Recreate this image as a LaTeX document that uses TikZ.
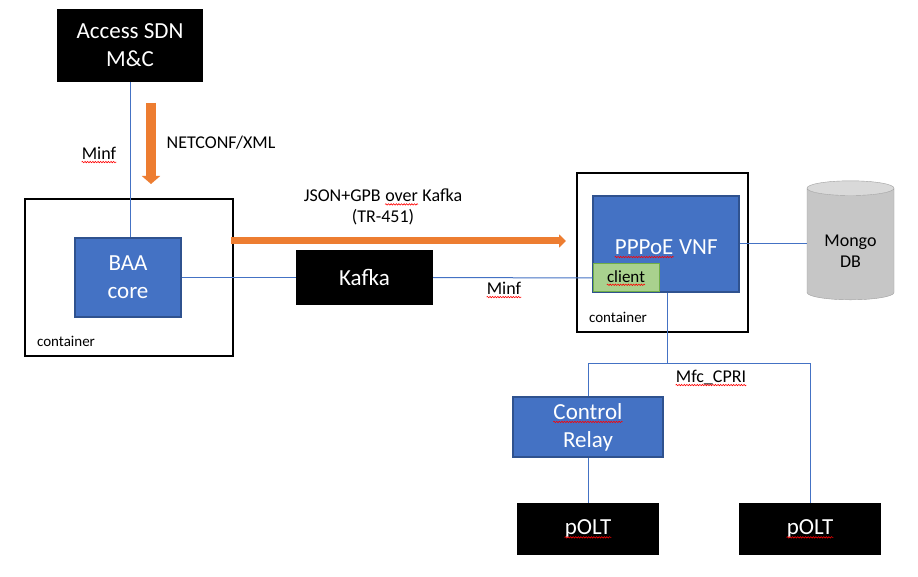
\documentclass[tikz,border=0pt]{standalone}
\usepackage{fontspec}
\setmainfont{Carlito}
\usepackage{tikz}
\usetikzlibrary{arrows.meta,shapes.geometric,decorations.pathmorphing}

\definecolor{boxblue}{HTML}{4472C4}
\definecolor{boxedge}{HTML}{2F528F}
\definecolor{arrorange}{HTML}{ED7D31}
\definecolor{clientgreen}{HTML}{A9D18E}
\definecolor{clientedge}{HTML}{70AD47}

% red spell-check wave under a word
\newcommand{\spell}[1]{\tikz[baseline=(word.base),x=1pt,y=1pt]{%
	\node[shape=rectangle,inner sep=0pt,minimum size=0pt,draw=none,fill=none,anchor=base] (word) {#1};
	\draw[red,line width=0.6pt,decorate,decoration={snake,amplitude=0.7pt,segment length=2.6pt}]
		([yshift=-2.8pt]word.base west) -- ([yshift=-2.8pt]word.base east);}}

\begin{document}
\begin{tikzpicture}[x=1pt,y=-1pt,
	bigfont/.style={font=\fontsize{23}{28}\selectfont},
	blackbox/.style={bigfont,fill=black,text=white,align=center},
	bluebox/.style={bigfont,fill=boxblue,draw=boxedge,line width=1.5pt,text=white,align=center},
	contbox/.style={draw=black,line width=2pt},
	lbl/.style={font=\fontsize{18}{21}\selectfont,inner sep=0pt,align=center},
	link/.style={draw=boxblue,line width=1pt}]
	\useasboundingbox[fill=white] (0,0) rectangle (918,577);
	% containers
	\node[contbox,minimum width=208,minimum height=157] (leftcont) at (129,277.5) {};
	\node[contbox,minimum width=171,minimum height=159] (rightcont) at (662.5,252.5) {};
	\node[font=\fontsize{15}{18}\selectfont] (contA) at (66,341) {container};
	\node[font=\fontsize{15}{18}\selectfont] (contB) at (618,317) {container};
	% boxes
	\node[blackbox,minimum width=146,minimum height=73] (access) at (130,45.5) {Access SDN\\M\&C};
	\node[bluebox,minimum width=146,minimum height=96,text height=25pt,text depth=4.5pt] (pppoe) at (666,244) {\spell{PPPoE} VNF};
	\node[bluebox,minimum width=106,minimum height=79] (baa) at (128,277.5) {BAA\\core};
	\node[blackbox,minimum width=137,minimum height=55] (kafka) at (364.5,277.5) {Kafka};
	\node[font=\fontsize{17}{20}\selectfont,fill=clientgreen,draw=clientedge,line width=1pt,
		minimum width=66,minimum height=28] (client) at (626,278) {\spell{client}};
	\node[cylinder,shape border rotate=90,aspect=0.25,draw=gray!75,
		cylinder uses custom fill,cylinder body fill=gray!45,cylinder end fill=gray!30,
		minimum width=87,minimum height=119,align=center,
		font=\fontsize{18}{21}\selectfont] (mongo) at (850.5,245.5) {\phantom{Mongo}\\\phantom{DB}};
	\node[lbl] (mongotext) at (850.5,251) {Mongo\\DB};
	\node[bluebox,minimum width=150,minimum height=60] (relay) at (588,427) {\spell{Control}\\Relay};
	\node[blackbox,minimum width=142,minimum height=52] (poltA) at (588,529) {\spell{pOLT}};
	\node[blackbox,minimum width=142,minimum height=52] (poltB) at (810,529) {\spell{pOLT}};
	% links
	\draw[link] (access.south) -- (access.south |- baa.north);
	\draw[link] (baa.east) -- (kafka.west);
	\draw[link] (kafka.east) -- (client.west);
	\draw[link] (pppoe.east) -- (pppoe.east -| mongo.west);
	\coordinate (split) at (667,363);
	\draw[link] (split |- pppoe.south) -- (split);
	\draw[link] (relay.north) -- (relay.north |- split) -- (poltB.north |- split) -- (poltB.north);
	\draw[link] (relay.south) -- (poltA.north);
	% orange arrows
	\coordinate (netA) at (151,103);
	\coordinate (netB) at (151,184);
	\draw[arrorange,line width=10pt,-{Triangle[width=18pt,length=8pt]}] (netA) -- (netB);
	\coordinate (jsonA) at (231,241);
	\coordinate (jsonB) at (566,241);
	\draw[arrorange,line width=7pt,-{Triangle[width=13pt,length=7pt]}] (jsonA) -- (jsonB);
	% labels
	\node[lbl] (minfA) at (99,155) {\spell{Minf}};
	\node[lbl] (netconf) at (221,143) {NETCONF/XML};
	\node[lbl] (json) at (383,207) {JSON+GPB \spell{over} Kafka\\(TR-451)};
	\node[lbl] (minfB) at (504,290) {\spell{Minf}};
	\node[lbl] (mfc) at (711,378) {\spell{Mfc\_CPRI}};
\end{tikzpicture}
\end{document}
